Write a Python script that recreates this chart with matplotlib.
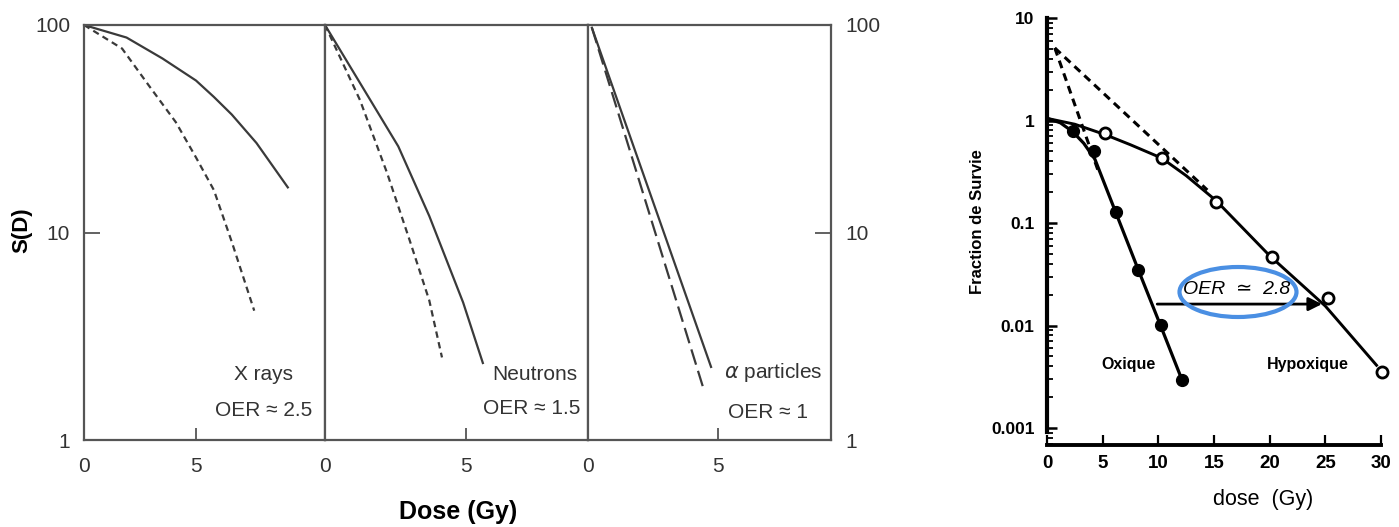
import matplotlib
matplotlib.use("Agg")
import matplotlib.pyplot as plt
from matplotlib.patches import Ellipse
from matplotlib.ticker import LogLocator, NullLocator, FixedLocator

plt.rcParams['font.family'] = ['Liberation Sans', 'DejaVu Sans']
plt.rcParams['mathtext.fontset'] = 'dejavusans'

# left figure: three panels, survival S(D) in percent
xray_solid_dose = [0, 1.9, 3.5, 5.0, 5.8, 6.6, 7.7, 9.1]
xray_solid_sf = [100, 87, 69, 54, 45, 37, 27, 16.5]
xray_dash_dose = [0, 1.7, 2.9, 4.1, 5.0, 5.8, 6.6, 7.6]
xray_dash_sf = [100, 77, 51, 34, 23, 16, 9, 4.2]

neut_solid_dose = [0, 1.3, 2.6, 3.7, 4.9, 5.6]
neut_solid_sf = [100, 51, 26, 12, 4.6, 2.35]
neut_dash_dose = [0, 1.24, 2.2, 3.0, 3.7, 4.15]
neut_dash_sf = [100, 43.5, 19.4, 9.2, 4.7, 2.5]

alpha_solid_dose = [0.15, 4.75]
alpha_solid_sf = [97, 2.25]
alpha_dash_dose = [0.15, 4.5]
alpha_dash_sf = [97, 1.7]

panel_names = ["X rays", "Neutrons", r"$\alpha$ particles"]
panel_oer = ["OER \u2248 2.5", "OER \u2248 1.5", "OER \u2248 1"]
panel_xmax = [10.76, 9.33, 9.38]

# right figure: fraction de survie vs dose
oxic_dose = [2.3, 4.2, 6.2, 8.2, 10.2, 12.1]
oxic_sf = [0.79, 0.5, 0.127, 0.035, 0.0101, 0.00295]
hypo_dose = [5.2, 10.3, 15.2, 20.2, 25.2, 30.1]
hypo_sf = [0.76, 0.43, 0.16, 0.047, 0.0185, 0.0035]

oxic_fit_dose = [0, 1.2, 2.3, 3.3, 4.3, 6.2, 8.2, 10.2, 12.1]
oxic_fit_sf = [1.05, 0.95, 0.78, 0.6, 0.42, 0.125, 0.035, 0.01, 0.003]
hypo_fit_dose = [0, 2.5, 5.2, 7.5, 10.3, 12.5, 15.2, 20, 25, 29.6]
hypo_fit_sf = [1.05, 0.92, 0.73, 0.58, 0.43, 0.29, 0.165, 0.048, 0.0155, 0.0041]
oxic_extrap_dose = [0.7, 4.7]
oxic_extrap_sf = [5.1, 0.3]
hypo_extrap_dose = [0.7, 14.4]
hypo_extrap_sf = [5.1, 0.21]

oer_from, oer_to, oer_level = 9.9, 24.7, 0.0162

W, H = 1399, 527
fig = plt.figure(figsize=(W / 100, H / 100), dpi=100)


def box(x0, y0, x1, y1):
    return [x0 / W, 1 - y1 / H, (x1 - x0) / W, (y1 - y0) / H]


def fpos(x, y):
    return (x / W, 1 - y / H)


grey = '#3a3a3a'
spine_c = '#555555'

ax1 = fig.add_axes(box(84, 25, 325, 440))
ax2 = fig.add_axes(box(325, 25, 588, 440))
ax3 = fig.add_axes(box(588, 25, 831, 440))
left_axes = [ax1, ax2, ax3]

curves = [
    (xray_solid_dose, xray_solid_sf, xray_dash_dose, xray_dash_sf, (2.9, 2.0)),
    (neut_solid_dose, neut_solid_sf, neut_dash_dose, neut_dash_sf, (2.9, 2.0)),
    (alpha_solid_dose, alpha_solid_sf, alpha_dash_dose, alpha_dash_sf, (7.2, 2.9)),
]

for ax, (sd, ss, dd, ds, dsh), xm in zip(left_axes, curves, panel_xmax):
    ax.set_yscale('log')
    ax.set_ylim(1, 100)
    ax.set_xlim(0, xm)
    ax.plot(sd, ss, color=grey, lw=1.6)
    ax.plot(dd, ds, color=grey, lw=1.6, dashes=dsh)
    for s in ax.spines.values():
        s.set_color(spine_c)
        s.set_linewidth(1.6)
    ax.set_xticks([0, 5])
    ax.tick_params(axis='x', direction='in', length=8.5, width=1.3, color=spine_c,
                   labelsize=15, labelcolor='#333333', pad=12)
    ax.yaxis.set_minor_locator(NullLocator())
    ax.yaxis.set_major_locator(FixedLocator([1, 10, 100]))
    ax.tick_params(axis='y', direction='in', length=11.5, width=1.3, color=spine_c,
                   labelsize=15, labelcolor='#333333', pad=10)

ax1.set_yticklabels(['1', '10', '100'])
ax2.tick_params(axis='y', left=False, labelleft=False)
ax3.yaxis.tick_right()
ax3.set_yticklabels(['1', '10', '100'])

text_pos = [((293, 375), (312, 410)), ((577, 375), (580, 408)), ((822, 373), (808, 413))]
for name, oer, (p1, p2) in zip(panel_names, panel_oer, text_pos):
    fig.text(*fpos(*p1), name, ha='right', va='center', fontsize=15, color='#333333')
    fig.text(*fpos(*p2), oer, ha='right', va='center', fontsize=15, color='#333333')

fig.text(*fpos(22, 230), 'S(D)', rotation=90, ha='center', va='center',
         fontsize=16, fontweight='bold')
fig.text(*fpos(458, 512), 'Dose (Gy)', ha='center', va='center',
         fontsize=18, fontweight='bold')

# right chart
axr = fig.add_axes(box(1047, 18, 1381, 445))
axr.set_yscale('log')
axr.set_ylim(10 ** -3.165, 10)
axr.set_xlim(0, 30)
for side in ['top', 'right']:
    axr.spines[side].set_visible(False)
axr.spines['left'].set_linewidth(3)
axr.spines['bottom'].set_linewidth(2.8)
axr.spines['left'].set_bounds(0.00092, 10)
axr.spines['bottom'].set_bounds(0, 30)

axr.plot(oxic_extrap_dose, oxic_extrap_sf, color='black', lw=2.2, dashes=(2.6, 1.8))
axr.plot(hypo_extrap_dose, hypo_extrap_sf, color='black', lw=2.2, dashes=(2.6, 1.8))
axr.plot(oxic_fit_dose, oxic_fit_sf, color='black', lw=2.3)
axr.plot(hypo_fit_dose, hypo_fit_sf, color='black', lw=2.1)
axr.plot(oxic_dose, oxic_sf, 'o', ms=8.5, color='black', clip_on=False, zorder=5)
axr.plot(hypo_dose, hypo_sf, 'o', ms=8, mfc='white', mec='black', mew=2,
         clip_on=False, zorder=5)

axr.annotate('', xy=(oer_to, oer_level), xytext=(oer_from, oer_level),
             arrowprops=dict(arrowstyle='-|>', color='black', lw=2, mutation_scale=20,
                             shrinkA=0, shrinkB=0))

axr.set_xticks([0, 5, 10, 15, 20, 25, 30])
axr.tick_params(axis='x', direction='in', length=7, width=1.6, labelsize=13.5, pad=7)
for lab in axr.get_xticklabels():
    lab.set_fontweight('bold')
axr.yaxis.set_major_locator(FixedLocator([0.001, 0.01, 0.1, 1, 10]))
axr.set_yticklabels(['0.001', '0.01', '0.1', '1', '10'])
axr.yaxis.set_minor_locator(LogLocator(base=10, subs=range(2, 10)))
axr.yaxis.set_minor_formatter(plt.NullFormatter())
axr.tick_params(axis='y', which='major', direction='in', length=7, width=1.8,
                labelsize=12.5, pad=9)
axr.tick_params(axis='y', which='minor', direction='in', length=4.5, width=1.3)
for lab in axr.get_yticklabels():
    lab.set_fontweight('bold')

fig.text(*fpos(978, 222), 'Fraction de Survie', rotation=90, ha='center', va='center',
         fontsize=12, fontweight='bold')
fig.text(*fpos(1263, 500), 'dose  (Gy)', ha='center', va='center', fontsize=15.5)
fig.text(*fpos(1129, 365), 'Oxique', ha='center', va='center', fontsize=11.5,
         fontweight='bold')
fig.text(*fpos(1308, 364), 'Hypoxique', ha='center', va='center', fontsize=11.5,
         fontweight='bold')

fig.text(*fpos(1237, 290), 'OER  \u2243  2.8', ha='center', va='center', fontsize=14,
         style='italic')
cx, cy = fpos(1238, 292)
fig.add_artist(Ellipse((cx, cy), 117 / W, 50 / H, transform=fig.transFigure,
                       fill=False, ec='#4a8fe3', lw=3))

fig.savefig('out.png', dpi=100)
